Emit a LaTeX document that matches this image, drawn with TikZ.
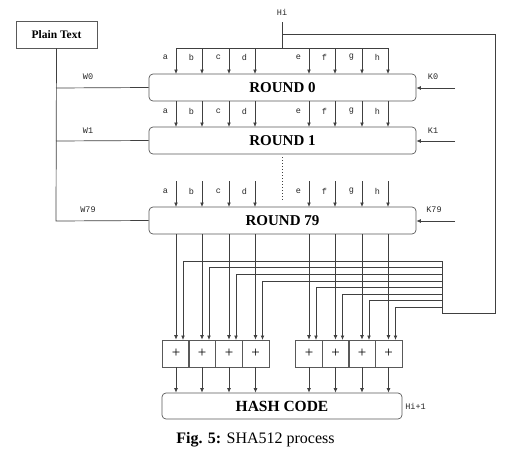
\documentclass[tikz,border=0pt]{standalone}
\usepackage{fontspec}
\setmainfont{Liberation Serif}
\newfontfamily\lblfont{Liberation Mono}
\usetikzlibrary{arrows.meta}
\begin{document}
\begin{tikzpicture}[x=1pt,y=-1pt,
  line width=0.7pt,
  ln/.style={draw=black!75},
  arr/.style={ln,-{Latex[length=4.5pt,width=3.8pt]}},
  roundbox/.style={draw=black!65, rounded corners=4pt, minimum width=267pt, minimum height=27pt, inner sep=0pt, font=\fontsize{15}{15}\selectfont\bfseries},
  plusbox/.style={draw=black!65, minimum width=26.7pt, minimum height=27pt, inner sep=0pt, font=\fontsize{15}{15}\selectfont},
  lbl/.style={font=\lblfont\fontsize{8.5}{8.5}\selectfont, inner sep=0pt, text=black!85}
]
\useasboundingbox (0,0) rectangle (520,455);

% boxes
\node[draw=black!65, minimum width=81pt, minimum height=27pt, inner sep=0pt, font=\fontsize{11.5}{11.5}\selectfont\bfseries] (pt) at (56.5,34.5) {Plain Text};
\node[roundbox] (r0) at (282.5,87.5) {ROUND 0};
\node[roundbox] (r1) at (282.5,140.5) {ROUND 1};
\node[roundbox] (r79) at (282.5,220.5) {ROUND 79};
\node[roundbox, minimum width=240pt, minimum height=26pt, font=\fontsize{15.5}{15.5}\selectfont\bfseries] (hc) at (282,406) {HASH CODE};

% plus boxes
\foreach \x [count=\i] in {176,202,229,255.5,309,335.5,362,388.5}
  \node[plusbox] (p\i) at (\x,353.5) {+};

% Hi input and top bus
\node[lbl] (hi) at (282,12) {Hi};
\coordinate (hitop) at (282,22);
\coordinate (hibus) at (282,48);
\coordinate (busl) at (176,48);
\coordinate (busr) at (388,48);
\draw[ln] (hitop) -- (hibus);
\draw[ln] (busl) -- (busr);

% feedback loop
\coordinate (fb1) at (282,34);
\coordinate (fb2) at (495,34);
\coordinate (fb3) at (495,313);
\coordinate (fb4) at (442,313);
\coordinate (fbtop) at (442,261);
\draw[ln] (fb1) -- (fb2) -- (fb3) -- (fb4) -- (fbtop);

% a..h inputs
\foreach \x/\l in {176/a,202/b,229/c,255/d,309/e,335/f,362/g,388/h}{
  \draw[arr] (\x,48) -- (\x,74);
  \node[lbl] at (\x-10.5,57) {\l};
  \draw[arr] (\x,101) -- (\x,127);
  \node[lbl] at (\x-10.5,111) {\l};
  \draw[arr] (\x,181) -- (\x,207);
  \node[lbl] at (\x-10.5,191) {\l};
}

% dotted continuation
\draw[ln, dotted, line width=1pt] (282,157) -- (282,202);

% plaintext words
\coordinate (ptb) at (56,221);
\draw[ln] (pt.south) -- (ptb) -- (r79.west);
\coordinate (w0) at (56,88);
\coordinate (w1) at (56,141);
\draw[ln] (w0) -- (r0.west);
\draw[ln] (w1) -- (r1.west);
\node[lbl] at (88,77) {W0};
\node[lbl] at (88,131) {W1};
\node[lbl] at (88,210) {W79};

% constants
\coordinate (k0) at (455,88);
\coordinate (k1) at (455,141);
\coordinate (k79) at (455,221);
\draw[arr] (k0) -- (r0.east |- k0);
\draw[arr] (k1) -- (r1.east |- k1);
\draw[arr] (k79) -- (r79.east |- k79);
\node[lbl] at (433,77) {K0};
\node[lbl] at (433,131) {K1};
\node[lbl] at (434,210) {K79};

% outputs of round 79 to adders
\foreach \x [count=\i] in {176,202,229,255.5,309,335.5,362,388.5}
  \draw[arr] (\x,234) -- (p\i.north);

% feedback bus to adders
\foreach \x/\y [count=\i] in {183/261,209/267.5,236/274,262.5/281,316/287.5,342.5/294,369/300.5,395.5/307}{
  \draw[arr] (442,\y) -- (\x,\y) -- (\x,340);
}

% adders to hash code
\foreach \i in {1,...,8}
  \draw[arr] (p\i.south) -- (p\i.south |- hc.north);

\node[lbl, anchor=west] at (405,406) {Hi+1};

% caption
\node[font=\fontsize{16}{16}\selectfont] (cap) at (255.5,440) {\textbf{Fig. 5:} SHA512 process};
\end{tikzpicture}
\end{document}
